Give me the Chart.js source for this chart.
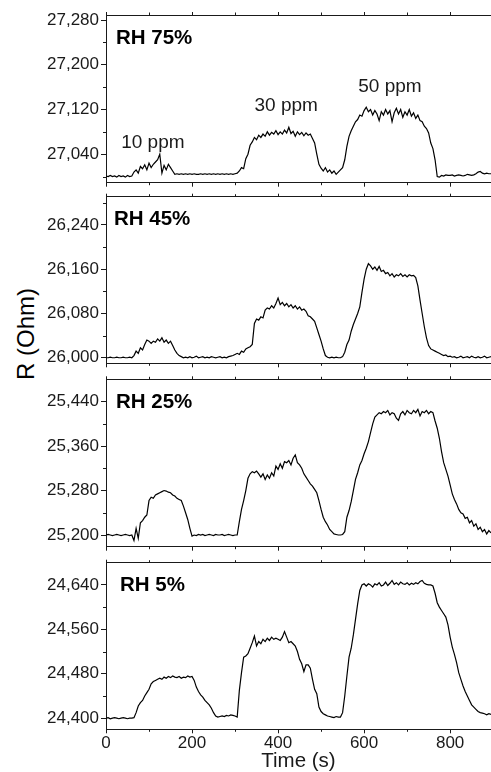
<!DOCTYPE html>
<html>
<head>
<meta charset="utf-8">
<script src="https://cdn.jsdelivr.net/npm/chart.js@4.4.1/dist/chart.umd.min.js"></script>
<style>
  body { margin: 0; background: #fff; width: 491px; height: 772px; overflow: hidden; position: relative; }
  #ylabel {
    position: absolute; left: 26px; top: 334px;
    transform: translate(-50%, -50%) rotate(-90deg);
    font: 24px "Liberation Sans", Arial, sans-serif; color: #000; white-space: nowrap;
  }
</style>
</head>
<body>
<div id="ylabel">R (Ohm)</div>
<script>
// sample times (s), shared by all four traces
const timeS = [
  0, 5, 10, 15, 20, 25, 30, 35, 40, 45,
  50, 55, 60, 65, 70, 75, 80, 85, 90, 95,
  100, 105, 110, 115, 120, 125, 130, 135, 140, 145,
  150, 155, 160, 165, 170, 175, 180, 185, 190, 195,
  200, 205, 210, 215, 220, 225, 230, 235, 240, 245,
  250, 255, 260, 265, 270, 275, 280, 285, 290, 295,
  300, 305, 310, 315, 320, 325, 330, 335, 340, 345,
  350, 355, 360, 365, 370, 375, 380, 385, 390, 395,
  400, 405, 410, 415, 420, 425, 430, 435, 440, 445,
  450, 455, 460, 465, 470, 475, 480, 485, 490, 495,
  500, 505, 510, 515, 520, 525, 530, 535, 540, 545,
  550, 555, 560, 565, 570, 575, 580, 585, 590, 595,
  600, 605, 610, 615, 620, 625, 630, 635, 640, 645,
  650, 655, 660, 665, 670, 675, 680, 685, 690, 695,
  700, 705, 710, 715, 720, 725, 730, 735, 740, 745,
  750, 755, 760, 765, 770, 775, 780, 785, 790, 795,
  800, 805, 810, 815, 820, 825, 830, 835, 840, 845,
  850, 855, 860, 865, 870, 875, 880, 885, 890, 895
];

// resistance (Ohm) at each humidity
const rh75 = [
  27001, 27000, 27002, 27000, 27001, 26999, 27002, 27000, 27001, 26999,
  27002, 27000, 27001, 27008, 27012, 27006, 27018, 27014, 27021, 27012,
  27024, 27016, 27022, 27026, 27030, 27040, 27006, 27020, 27012, 27022,
  27016, 27010, 27004, 27005, 27004, 27005, 27004, 27005, 27004, 27005,
  27004, 27005, 27004, 27004, 27005, 27004, 27005, 27004, 27005, 27004,
  27005, 27004, 27005, 27004, 27005, 27004, 27005, 27004, 27005, 27004,
  27005, 27006, 27010, 27016, 27014, 27032, 27040, 27056, 27062, 27070,
  27066, 27074, 27070, 27076, 27072, 27080, 27074, 27079, 27076, 27082,
  27075, 27080, 27076, 27083, 27078, 27088, 27077, 27081, 27072, 27080,
  27075, 27079, 27073, 27078, 27074, 27076, 27068, 27060, 27040, 27022,
  27015, 27010, 27016, 27008, 27012, 27006, 27010, 27004, 27008, 27012,
  27016, 27030, 27054, 27072, 27082, 27090, 27098, 27102, 27110, 27108,
  27118, 27124, 27116, 27120, 27110, 27118, 27112, 27100, 27116, 27110,
  27120, 27112, 27118, 27098, 27114, 27122, 27112, 27120, 27106, 27116,
  27110, 27120, 27108, 27114, 27104, 27110, 27100, 27098, 27090, 27086,
  27078, 27060, 27050, 27030, 27000, 26999, 27002, 27001, 27003, 27002,
  27002, 27003, 27001, 27002, 27003, 27002, 27001, 27002, 27004, 27003,
  27002, 27003, 27005, 27008, 27009, 27006, 27005, 27006, 27005, 27005
];
const rh45 = [
  26000, 26000, 26001, 26000, 26000, 26001, 26000, 26000, 26001, 26000,
  26000, 26001, 26000, 26004, 26012, 26008, 26018, 26014, 26024, 26032,
  26030, 26026, 26030, 26028, 26034, 26030, 26036, 26028, 26032, 26026,
  26030, 26022, 26014, 26008, 26004, 26002, 26000, 26001, 26000, 26002,
  26000, 26001, 26003, 26000, 26001, 26002, 26000, 26001, 26000, 26002,
  26001, 26000, 26001, 26002, 26000, 26001, 26000, 26002, 26003, 26004,
  26006, 26008, 26006, 26012, 26010, 26016, 26018, 26020, 26024, 26062,
  26070, 26068, 26074, 26072, 26086, 26090, 26088, 26094, 26090, 26098,
  26108, 26096, 26100, 26094, 26098, 26092, 26096, 26090, 26094, 26088,
  26092, 26086, 26088, 26084, 26076, 26074, 26070, 26066, 26054, 26042,
  26030, 26016, 26004, 26001, 26000, 26001, 26000, 26001, 26000, 26000,
  26002, 26010, 26024, 26032, 26048, 26060, 26070, 26080, 26092, 26118,
  26142, 26160, 26170, 26166, 26160, 26164, 26158, 26165, 26156, 26158,
  26152, 26154, 26148, 26152, 26146, 26150, 26148, 26152, 26147, 26150,
  26146, 26150, 26148, 26149, 26145, 26130, 26104, 26080, 26056, 26036,
  26022, 26016, 26014, 26012, 26010, 26008, 26006, 26004, 26005, 26002,
  26003, 26001, 26002, 26000, 26001, 26003, 26000, 26001, 26002, 26000,
  26003, 26001, 26000, 26002, 26000, 26001, 26003, 26000, 26001, 26002
];
const rh25 = [
  25200, 25201, 25200, 25199, 25200, 25201, 25200, 25199, 25200, 25201,
  25200, 25199, 25200, 25190, 25212, 25194, 25222, 25226, 25232, 25236,
  25262, 25268, 25266, 25272, 25274, 25276, 25278, 25280, 25279, 25277,
  25276, 25272, 25270, 25266, 25264, 25262, 25252, 25240, 25228, 25212,
  25198, 25200, 25199, 25201, 25200, 25201, 25199, 25200, 25201, 25200,
  25199, 25201, 25200, 25200, 25201, 25199, 25200, 25201, 25200, 25199,
  25200, 25200, 25224, 25246, 25262, 25280, 25302, 25310, 25314, 25312,
  25315, 25310, 25304, 25310, 25300, 25308, 25302, 25312, 25306, 25324,
  25318, 25328, 25320, 25332, 25330, 25334, 25326, 25338, 25344, 25330,
  25326, 25320, 25310, 25304, 25298, 25292, 25288, 25282, 25276, 25262,
  25246, 25232, 25224, 25218, 25210, 25206, 25202, 25201, 25200, 25200,
  25201, 25206, 25232, 25244, 25260, 25280, 25300, 25312, 25326, 25334,
  25346, 25356, 25368, 25384, 25400, 25412, 25416, 25420, 25418, 25422,
  25420, 25424, 25416, 25420, 25418, 25410, 25406, 25418, 25422, 25416,
  25424, 25420, 25418, 25424, 25420, 25426, 25414, 25422, 25420, 25424,
  25418, 25422, 25420, 25405, 25392, 25374, 25350, 25330, 25318, 25306,
  25290, 25274, 25264, 25256, 25246, 25240, 25238, 25230, 25232, 25222,
  25226, 25216, 25220, 25210, 25214, 25206, 25210, 25202, 25208, 25204
];
const rh5 = [
  24400, 24401, 24399, 24400, 24401, 24400, 24399, 24400, 24401, 24400,
  24399, 24400, 24400, 24401, 24410, 24422, 24428, 24432, 24440, 24446,
  24452, 24462, 24466, 24468, 24470, 24472, 24470, 24474, 24472, 24475,
  24473, 24476, 24474, 24473, 24475, 24472, 24474, 24473, 24476, 24474,
  24475, 24468, 24456, 24448, 24442, 24438, 24432, 24428, 24424, 24418,
  24410, 24404, 24402, 24403, 24404, 24403, 24405, 24404, 24406, 24405,
  24404, 24402, 24450, 24482, 24510, 24512, 24516, 24526, 24536, 24548,
  24530, 24538, 24534, 24542, 24538, 24544, 24540, 24546, 24542, 24544,
  24542, 24540, 24546, 24556, 24546, 24536, 24538, 24534, 24530, 24520,
  24506, 24498, 24484, 24496, 24496, 24490, 24470, 24452, 24444, 24420,
  24412, 24408, 24406, 24404, 24403, 24402, 24401, 24403, 24402, 24402,
  24410, 24440, 24476, 24510, 24526, 24550, 24578, 24606, 24630, 24640,
  24642, 24638, 24642, 24640, 24636, 24642, 24640, 24644, 24638, 24640,
  24645, 24639, 24643, 24648, 24641, 24644, 24640, 24645, 24642, 24641,
  24644, 24640, 24643, 24641, 24644, 24642, 24646, 24648, 24643, 24641,
  24640, 24640, 24638, 24625, 24608, 24600, 24594, 24588, 24582, 24568,
  24546, 24528, 24515, 24500, 24482, 24470, 24458, 24448, 24440, 24432,
  24424, 24420, 24416, 24412, 24410, 24409, 24408, 24406, 24408, 24407
];

const panelNames = ['RH 75%', 'RH 45%', 'RH 25%', 'RH 5%'];
const yMajor = [
  [27040, 27120, 27200, 27280],
  [26000, 26080, 26160, 26240],
  [25200, 25280, 25360, 25440],
  [24400, 24480, 24560, 24640]
];
const yMinor = [
  [27000, 27080, 27160, 27240],
  [26040, 26120, 26200, 26280],
  [25240, 25320, 25400],
  [24440, 24520, 24600]
];
const xMajor = [0, 200, 400, 600, 800];
const xMinor = [100, 300, 500, 700];
const ppmText = ['10 ppm', '30 ppm', '50 ppm'];
const ppmX = [109, 419, 660];
const ppmY = [27061, 27127, 27161];

const FONT = '"Liberation Sans", Arial, sans-serif';
const INK = '#1a1a1a';
const W = 491, H = 772, AXIS_LEFT = 106, X_MAX = 895;
const TOP_AX = 6, BOT_AX = 6, MARGIN = 20;

// pixel frame of each panel, with its y range
const panels = [
  { series: rh75, top: 15, bottom: 182.7, min: 26989, max: 27289, dx: 10 },
  { series: rh45, top: 196.7, bottom: 363.3, min: 25990, max: 26291, dx: 8 },
  { series: rh25, top: 379.3, bottom: 546.7, min: 25179, max: 25480, dx: 10 },
  { series: rh5, top: 562.7, bottom: 729.3, min: 24380, max: 24680, dx: 14 }
];

const panelText = {
  id: 'panelText',
  afterDraw(chart, args, opts) {
    const { ctx, chartArea: a, scales } = chart;
    ctx.save();
    // minor ticks
    ctx.strokeStyle = INK;
    ctx.lineWidth = 1;
    ctx.beginPath();
    opts.minorY.forEach(v => {
      const y = Math.round(scales.y.getPixelForValue(v)) + 0.5;
      ctx.moveTo(a.left - 3, y);
      ctx.lineTo(a.left, y);
    });
    xMinor.forEach(v => {
      const x = Math.round(scales.x.getPixelForValue(v)) + 0.5;
      ctx.moveTo(x, a.bottom);
      ctx.lineTo(x, a.bottom + 2.5);
      ctx.moveTo(x, a.top);
      ctx.lineTo(x, a.top - 2.5);
    });
    ctx.stroke();

    ctx.fillStyle = '#000';
    ctx.textBaseline = 'middle';
    ctx.font = 'bold 20.5px ' + FONT;
    ctx.fillText(opts.name, a.left + opts.dx, a.top + 23);
    if (opts.ppm) {
      ctx.font = '19px ' + FONT;
      ctx.fillStyle = INK;
      ctx.textAlign = 'center';
      ppmText.forEach((t, k) => {
        ctx.fillText(t, scales.x.getPixelForValue(ppmX[k]), scales.y.getPixelForValue(ppmY[k]));
      });
    }
    ctx.restore();
  }
};

panels.forEach((p, i) => {
  const last = i === panels.length - 1;
  const cTop = Math.floor(p.top - MARGIN);
  const cBottom = last ? H : Math.ceil(p.bottom + MARGIN);
  const botAx = last ? cBottom - p.bottom : BOT_AX;
  const padTop = p.top - cTop - TOP_AX;
  const padBottom = cBottom - p.bottom - botAx;

  const canvas = document.createElement('canvas');
  canvas.width = W;
  canvas.height = cBottom - cTop;
  canvas.style.cssText = 'position:absolute;left:0;top:' + cTop + 'px';
  document.body.appendChild(canvas);

  const frame = { color: INK, width: 1 };
  new Chart(canvas, {
    type: 'line',
    data: {
      datasets: [{
        data: timeS.map((t, k) => ({ x: t, y: p.series[k] })),
        borderColor: '#000',
        borderWidth: 1.2,
        pointRadius: 0,
        tension: 0,
        fill: false
      }]
    },
    options: {
      responsive: false,
      animation: false,
      events: [],
      layout: { padding: { top: padTop, bottom: padBottom, left: 0, right: 0 } },
      plugins: {
        legend: { display: false },
        tooltip: { enabled: false },
        panelText: { name: panelNames[i], dx: p.dx, minorY: yMinor[i], ppm: i === 0 }
      },
      scales: {
        x: {
          type: 'linear', position: 'bottom', min: 0, max: X_MAX,
          afterBuildTicks: s => { s.ticks = xMajor.map(v => ({ value: v })); },
          afterFit: s => { s.height = botAx; },
          grid: { drawOnChartArea: false, tickLength: 4, tickColor: INK },
          border: frame,
          ticks: { display: last, padding: 0, color: INK, autoSkip: false, maxRotation: 0,
                   font: { family: FONT, size: 17 } },
          title: { display: last, text: 'Time (s)', padding: 0, color: INK,
                   font: { family: FONT, size: 20.5, lineHeight: 1 } }
        },
        xTop: {
          type: 'linear', position: 'top', min: 0, max: X_MAX,
          afterBuildTicks: s => { s.ticks = xMajor.map(v => ({ value: v })); },
          afterFit: s => { s.height = TOP_AX; },
          grid: { drawOnChartArea: false, tickLength: 3, tickColor: INK },
          border: frame,
          ticks: { display: false }
        },
        y: {
          type: 'linear', position: 'left', min: p.min, max: p.max,
          afterBuildTicks: s => { s.ticks = yMajor[i].map(v => ({ value: v })); },
          afterFit: s => { s.width = AXIS_LEFT; },
          grid: { drawOnChartArea: false, tickLength: 5, tickColor: INK },
          border: frame,
          ticks: { padding: 2, color: INK, font: { family: FONT, size: 17 },
                   callback: v => v.toLocaleString('en-US') }
        }
      }
    },
    plugins: [panelText]
  });
});
</script>
</body>
</html>
